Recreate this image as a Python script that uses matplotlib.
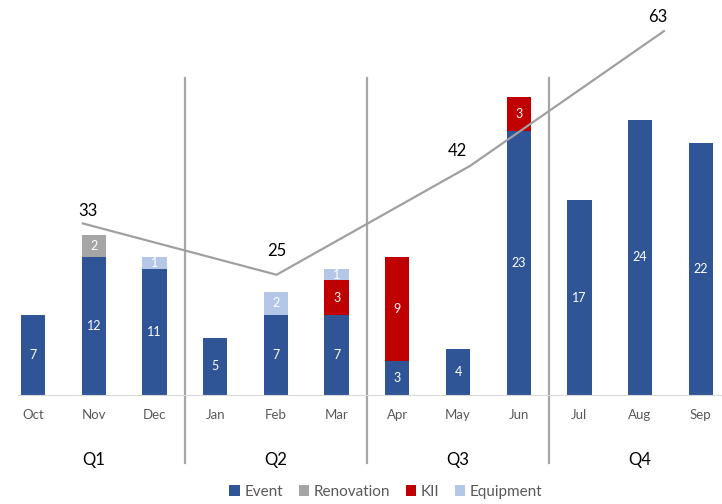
import numpy as np
import matplotlib
matplotlib.use('Agg')
import matplotlib.pyplot as plt

plt.rcParams['font.family'] = ['Lato', 'DejaVu Sans']

months = ['Oct','Nov','Dec','Jan','Feb','Mar','Apr','May','Jun','Jul','Aug','Sep']
quarters = ['Q1','Q2','Q3','Q4']
event = [7,12,11,5,7,7,3,4,23,17,24,22]
renovation = [0,2,0,0,0,0,0,0,0,0,0,0]
kii = [0,0,0,0,0,3,9,0,3,0,0,0]
equipment = [0,0,1,0,2,1,0,0,0,0,0,0]
totals = [33,25,42,63]

series = [('Event', event, '#2F5597'),
          ('Renovation', renovation, '#A5A5A5'),
          ('KII', kii, '#C00000'),
          ('Equipment', equipment, '#B4C7E7')]

W, H = 722, 504
fig = plt.figure(figsize=(W/100, H/100), dpi=100)
# axes: left at 18px, baseline at 395px, top at 10px
ax = fig.add_axes([18/W, 1-395/H, 1-18/W, 385/H])
x = np.arange(len(months))
bottom = np.zeros(len(months))
for name, vals, col in series:
    vals = np.array(vals, dtype=float)
    ax.bar(x, vals, 0.4, bottom=bottom, color=col, label=name, zorder=2)
    for xi, v, b in zip(x, vals, bottom):
        if v > 0:
            ax.text(xi, b + v/2, str(int(v)), ha='center', va='center',
                    color='white', fontsize=9, zorder=3)
    bottom += vals

ax.set_xlim(-0.25, 11.35)
ax.set_ylim(0, 385/11.46)
for s in ['top','right','left']:
    ax.spines[s].set_visible(False)
ax.spines['bottom'].set_color('#D9D9D9')
ax.set_yticks([])
ax.set_xticks(x)
ax.set_xticklabels(months, color='#595959', fontsize=9.5)
ax.tick_params(axis='x', length=0, pad=10)

# quarter separators and labels
trans = ax.get_xaxis_transform()
for i in range(1, len(quarters)):
    sx = 3*i - 0.5
    ax.plot([sx, sx], [(395-78)/385, (395-463)/385], transform=trans,
            color='#A6A6A6', lw=1.6, clip_on=False, zorder=1)
for i, q in enumerate(quarters):
    ax.text(3*i + 1, -(460-395)/385, q, transform=trans, ha='center',
            va='center', fontsize=12, color='black')

# total line on secondary axes
ax2 = fig.add_axes(ax.get_position(), frameon=False)
ax2.set_xlim(-0.335, 3.30)
ax2.set_ylim((435-395)/6.41, (435-10)/6.41)
ax2.set_xticks([])
ax2.set_yticks([])
qx = np.arange(len(quarters))
ax2.plot(qx, totals, color='#A0A0A0', lw=1.6, zorder=4)
offsets = [(5, 12), (0, 24), (-13, 15), (-6, 14)]
for xi, v, off in zip(qx, totals, offsets):
    ax2.annotate(str(v), (xi, v), xytext=off, textcoords='offset pixels',
                 ha='center', va='center', fontsize=12, color='black')

handles, labels = ax.get_legend_handles_labels()
fig.legend(handles, labels, loc='center', bbox_to_anchor=(386/W, 1-492/H),
           ncol=4, frameon=False, fontsize=11, handlelength=0.7,
           handleheight=0.7, handletextpad=0.3, columnspacing=1.0,
           labelcolor='#595959')

fig.savefig('out.png', dpi=100)
